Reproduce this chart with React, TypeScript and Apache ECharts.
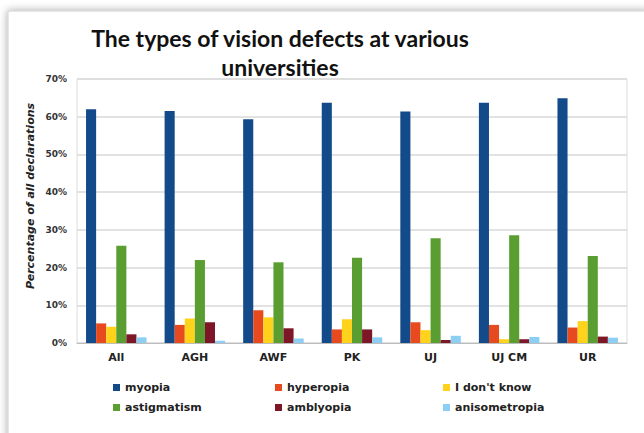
import React, { useEffect, useRef } from "react";
import * as echarts from "echarts";

const categories = ["All", "AGH", "AWF", "PK", "UJ", "UJ CM", "UR"];
const myopia = [62.0, 61.5, 59.3, 63.7, 61.4, 63.7, 64.9];
const hyperopia = [5.2, 4.8, 8.7, 3.6, 5.5, 4.8, 4.1];
const dontKnow = [4.3, 6.5, 6.8, 6.3, 3.4, 1.0, 5.8];
const astigmatism = [25.8, 22.0, 21.4, 22.6, 27.8, 28.6, 23.1];
const amblyopia = [2.3, 5.5, 3.9, 3.6, 0.8, 1.0, 1.7];
const anisometropia = [1.5, 0.6, 1.2, 1.5, 1.9, 1.6, 1.4];
const seriesNames = ["myopia", "hyperopia", "I don't know", "astigmatism", "amblyopia", "anisometropia"];
const seriesData = [myopia, hyperopia, dontKnow, astigmatism, amblyopia, anisometropia];
const colors = ["#124A8A", "#E84A1F", "#FFD21C", "#5A9E32", "#7D1627", "#8DCFF2"];

export default function App() {
  const ref = useRef<HTMLDivElement>(null);
  useEffect(() => {
    const chart = echarts.init(ref.current!, null, { renderer: "svg" });
    const font = "DejaVu Sans";
    const legendBase = {
      orient: "vertical" as const,
      itemWidth: 7,
      itemHeight: 7,
      itemGap: 9,
      icon: "rect",
      textStyle: { fontFamily: font, fontSize: 11, fontWeight: "bold" as const, color: "#222" },
      padding: 0,
      top: 382,
    };
    chart.setOption({
      animation: false,
      backgroundColor: "#ffffff",
      color: colors,
      graphic: [
        {
          type: "rect",
          shape: { x: 8, y: 11, width: 640, height: 430 },
          style: { fill: "#fff", stroke: "#cfcfcf", lineWidth: 1, shadowBlur: 8, shadowColor: "rgba(0,0,0,0.35)" },
          z: -10,
        },
        {
          type: "text",
          x: 280,
          y: 23,
          style: {
            text: "The types of vision defects at various\nuniversities",
            fontFamily: "Lato",
            fontSize: 23,
            fontWeight: "bold",
            fill: "#111",
            textAlign: "center",
            lineHeight: 29,
          },
        },
        {
          type: "text",
          x: 30,
          y: 196,
          rotation: Math.PI / 2,
          style: {
            text: "Percentage of all declarations",
            fontFamily: font,
            fontSize: 11,
            fontWeight: "bold",
            fontStyle: "italic",
            fill: "#222",
            textAlign: "center",
            textVerticalAlign: "middle",
          },
        },
      ],
      grid: { left: 77, right: 17, top: 79, bottom: 90, show: true, borderColor: "#dcdcdc", borderWidth: 1 },
      legend: [
        { ...legendBase, left: 113, data: [seriesNames[0], seriesNames[3]] },
        { ...legendBase, left: 275, data: [seriesNames[1], seriesNames[4]] },
        { ...legendBase, left: 443, data: [seriesNames[2], seriesNames[5]] },
      ],
      xAxis: {
        type: "category",
        data: categories,
        axisTick: { show: false },
        axisLine: { lineStyle: { color: "#bdbdbd" } },
        axisLabel: { fontFamily: font, fontSize: 11, fontWeight: "bold", color: "#222", margin: 9 },
      },
      yAxis: {
        type: "value",
        min: 0,
        max: 70,
        interval: 10,
        axisLine: { show: false },
        axisTick: { show: false },
        splitLine: { lineStyle: { color: "#d9d9d9", width: 1.5 } },
        axisLabel: { formatter: "{value}%", fontFamily: font, fontSize: 9, fontWeight: "bold", color: "#333", margin: 10 },
      },
      series: seriesNames.map((n, i) => ({
        name: n,
        type: "bar",
        data: seriesData[i],
        barGap: "0%",
        barCategoryGap: "23%",
      })),
    });
    return () => chart.dispose();
  }, []);
  return <div ref={ref} style={{ position: "fixed", left: 0, top: 0, width: 644, height: 433 }} />;
}
